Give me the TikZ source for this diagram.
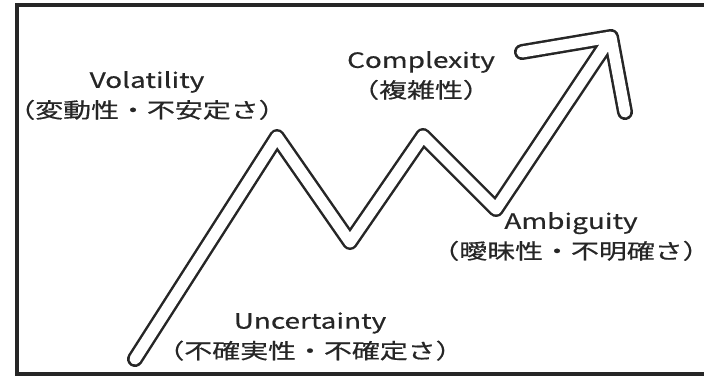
\documentclass[tikz,border=0pt]{standalone}
\usepackage{fontspec}
\setmainfont[FakeStretch=1.33, FakeBold=0.6]{Noto Sans CJK JP}
\usetikzlibrary{positioning}

\begin{document}
\begin{tikzpicture}[
    x=1pt, y=-1pt,
    every node/.style={font=\fontsize{21}{30}\selectfont, text=black!85, align=center, inner sep=0pt},
    frame/.style={draw=black!85, line width=4pt},
    tube/.style={draw=black!85, line width=16pt, line cap=round, line join=round},
    tubefill/.style={draw=white, line width=11pt, line cap=round, line join=round},
]
    \clip (0,0) rectangle (704,376);
    \draw[frame] (17,5) rectangle (720,374);

    % --- zigzag arrow ---
    \coordinate (start) at (135,359);
    \coordinate (peakA) at (277,137);
    \coordinate (valleyA) at (350,242);
    \coordinate (peakB) at (423,136);
    \coordinate (valleyB) at (496,209);
    \coordinate (tip) at (611,37);
    \coordinate (barbL) at (522,52);
    \coordinate (barbR) at (625,112);

    \foreach \s in {tube, tubefill}
        \draw[\s] (start) -- (peakA) -- (valleyA) -- (peakB) -- (valleyB) -- (tip)
            (barbL) -- (tip) -- (barbR);

    % --- labels ---
    \node (vol) at (147,95.5) {Volatility\\（変動性・不安定さ）};
    \node (cpx) at (421,75.5) {Complexity\\（複雑性）};
    \node (amb) at (571,236.5) {Ambiguity\\（曖昧性・不明確さ）};
    \node (unc) at (310,336.5) {Uncertainty\\（不確実性・不確定さ）};

\end{tikzpicture}
\end{document}
